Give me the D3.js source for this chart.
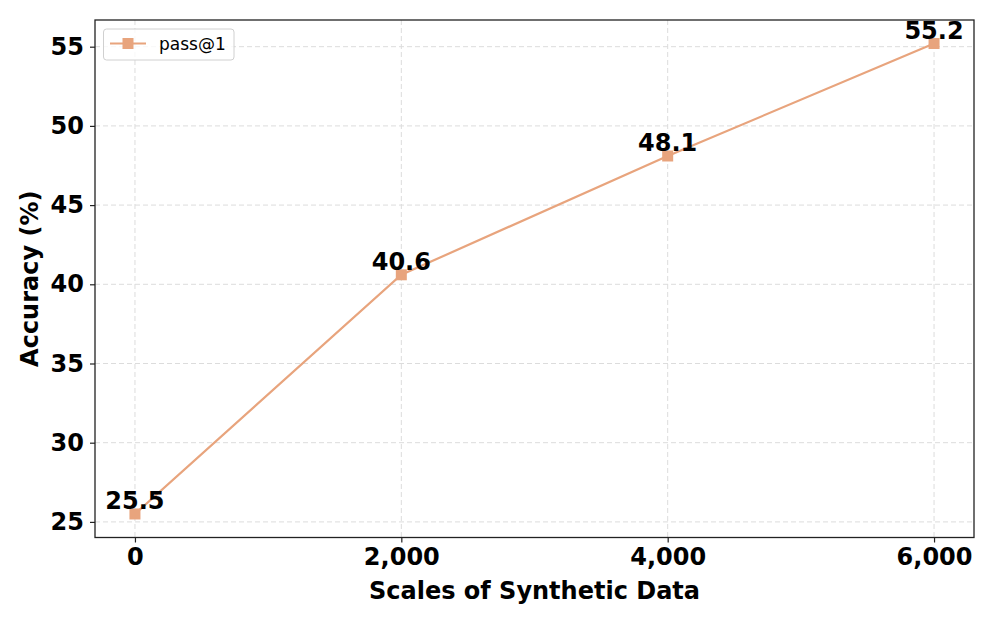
<!DOCTYPE html>
<html><head><meta charset="utf-8">
<script src="https://cdn.jsdelivr.net/npm/d3@7"></script>
<style>body{margin:0;background:#fff}</style>
</head><body>
<svg id="c" width="996" height="623"></svg>
<script>
const xValues = [0, 2000, 4000, 6000];
const accuracy = [25.5, 40.6, 48.1, 55.2];
const xTicks = [0, 2000, 4000, 6000];
const yTicks = [25, 30, 35, 40, 45, 50, 55];
const seriesName = "pass@1";

const svg = d3.select("#c");
const L = 95, R = 974, T = 20, B = 537.5;
const x = d3.scaleLinear().domain([-300, 6300]).range([L, R]);
const y = d3.scaleLinear().domain([24.015, 56.685]).range([B, T]);
const color = "#E8A47D";
const font = "DejaVu Sans, sans-serif";
const fs = 24;

// grid
const g = svg.append("g");
g.selectAll(".gx").data(xTicks).enter().append("line")
  .attr("x1", d => x(d)).attr("x2", d => x(d)).attr("y1", T).attr("y2", B)
  .attr("stroke", "#dcdcdc").attr("stroke-width", 1).attr("stroke-dasharray", "5,3");
g.selectAll(".gy").data(yTicks).enter().append("line")
  .attr("y1", d => y(d)).attr("y2", d => y(d)).attr("x1", L).attr("x2", R)
  .attr("stroke", "#dcdcdc").attr("stroke-width", 1).attr("stroke-dasharray", "5,3");

// axes
const xAxis = svg.append("g").attr("transform", `translate(0,${B})`)
  .call(d3.axisBottom(x).tickValues(xTicks).tickFormat(d3.format(",")).tickSize(5).tickPadding(5));
const yAxis = svg.append("g").attr("transform", `translate(${L},0)`)
  .call(d3.axisLeft(y).tickValues(yTicks).tickSize(5).tickPadding(6));
[xAxis, yAxis].forEach(a => {
  a.select(".domain").remove();
  a.selectAll(".tick line").attr("stroke", "#222").attr("stroke-width", 1.2);
  a.selectAll(".tick text").attr("font-family", font).attr("font-weight", "bold")
    .attr("font-size", fs).attr("fill", "#000");
});

// frame
svg.append("rect").attr("x", L).attr("y", T).attr("width", R - L).attr("height", B - T)
  .attr("fill", "none").attr("stroke", "#222").attr("stroke-width", 1.3);

// line
const pts = xValues.map((v, i) => [v, accuracy[i]]);
svg.append("path").datum(pts)
  .attr("d", d3.line().x(d => x(d[0])).y(d => y(d[1])))
  .attr("fill", "none").attr("stroke", color).attr("stroke-width", 2.2);
svg.selectAll(".m").data(pts).enter().append("rect")
  .attr("x", d => x(d[0]) - 5.5).attr("y", d => y(d[1]) - 5.5)
  .attr("width", 11).attr("height", 11).attr("fill", color);

// labels
svg.selectAll(".lbl").data(pts).enter().append("text")
  .attr("x", d => x(d[0])).attr("y", d => y(d[1]) - 5)
  .attr("text-anchor", "middle").attr("font-family", font).attr("font-weight", "bold")
  .attr("font-size", fs).attr("fill", "#000").text(d => d[1].toFixed(1));

// axis titles
svg.append("text").attr("x", (L + R) / 2).attr("y", 599).attr("text-anchor", "middle")
  .attr("font-family", font).attr("font-weight", "bold").attr("font-size", fs).text("Scales of Synthetic Data");
svg.append("text").attr("transform", `translate(38,${(T + B) / 2}) rotate(-90)`).attr("text-anchor", "middle")
  .attr("font-family", font).attr("font-weight", "bold").attr("font-size", fs).text("Accuracy (%)");

// legend
const lg = svg.append("g");
lg.append("rect").attr("x", 103.5).attr("y", 29).attr("width", 130.5).attr("height", 31).attr("rx", 3)
  .attr("fill", "#fff").attr("fill-opacity", 0.8).attr("stroke", "#d0d0d0").attr("stroke-width", 1);
lg.append("line").attr("x1", 110).attr("x2", 146).attr("y1", 43.5).attr("y2", 43.5)
  .attr("stroke", color).attr("stroke-width", 2.2);
lg.append("rect").attr("x", 122.5).attr("y", 38).attr("width", 11).attr("height", 11).attr("fill", color);
lg.append("text").attr("x", 159).attr("y", 49.5).attr("font-family", font).attr("font-size", 17)
  .attr("fill", "#000").text(seriesName);
</script>
</body></html>
